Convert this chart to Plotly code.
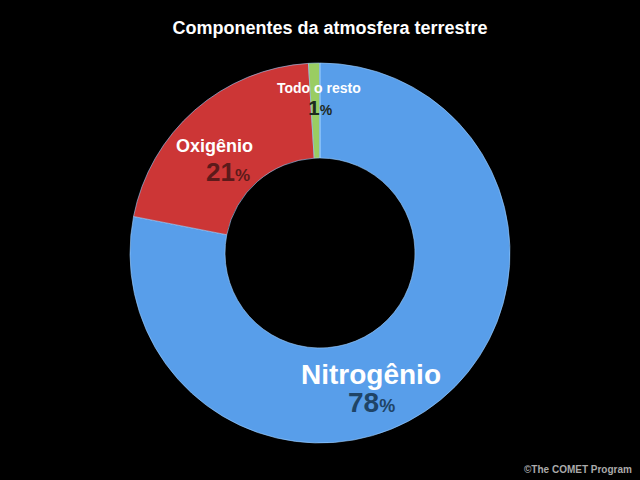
import plotly.graph_objects as go

# Data
components = ['Nitrogênio', 'Oxigênio', 'Argônio', 'Outros']
shares = [78.08, 20.95, 0.93, 0.04]
slice_colors = ['#589EEA', '#CC3636', '#9ACD62', '#2E6B2E']

label_names = ['Nitrogênio', 'Oxigênio', 'Todo o resto']
label_pcts = ['78', '21', '1']

W, H = 640, 480
FONT = "Liberation Sans, Arial, sans-serif"

def px(x, y):
    return x / W, 1 - y / H

fig = go.Figure()
fig.add_trace(go.Pie(
    labels=components,
    values=shares,
    hole=0.5,
    sort=False,
    direction='clockwise',
    rotation=0,
    marker=dict(colors=slice_colors, line=dict(color='#9FD0FF', width=0.6)),
    textinfo='none',
    hoverinfo='label+percent',
    showlegend=False,
    domain=dict(x=[(320 - 190) / W, (320 + 190) / W],
                y=[(227 - 190) / H, (227 + 190) / H]),
))

# label positions / styles (pixels)
name_pos = [(371, 374, 28), (214, 146, 18), (319, 88, 14)]
pct_pos = [(371, 402, 28, 18, '#1F4466'), (228, 172, 26, 17, '#5C1A1A'), (320, 108, 21, 14, '#1E2A1E')]

annotations = []
for name, (x, y, s) in zip(label_names, name_pos):
    ax, ay = px(x, y)
    annotations.append(dict(x=ax, y=ay, xref='paper', yref='paper', xanchor='center', yanchor='middle',
                            text=f"<b>{name}</b>", showarrow=False,
                            font=dict(family=FONT, size=s, color='white')))
for pct, (x, y, s1, s2, c) in zip(label_pcts, pct_pos):
    ax, ay = px(x, y)
    annotations.append(dict(x=ax, y=ay, xref='paper', yref='paper', xanchor='center', yanchor='middle',
                            text=f"<b>{pct}</b><span style='font-size:{s2}px'><b>%</b></span>",
                            showarrow=False, font=dict(family=FONT, size=s1, color=c)))
cx, cy = px(634, 469)
annotations.append(dict(x=cx, y=cy, xref='paper', yref='paper', xanchor='right', yanchor='middle',
                        text="<b>©The COMET Program</b>", showarrow=False,
                        font=dict(family=FONT, size=10, color='#AAAAAA')))

fig.update_layout(
    width=W, height=H,
    margin=dict(l=0, r=0, t=0, b=0),
    paper_bgcolor='black',
    plot_bgcolor='black',
    title=dict(text="<b>Componentes da atmosfera terrestre</b>", x=330 / W, xanchor='center',
               y=1 - 28 / H, yanchor='middle', font=dict(family=FONT, size=18, color='white')),
    annotations=annotations,
)

fig.write_html("out.html", config={'displayModeBar': False},
               post_script="document.body.style.margin='0';document.body.style.background='black';")
